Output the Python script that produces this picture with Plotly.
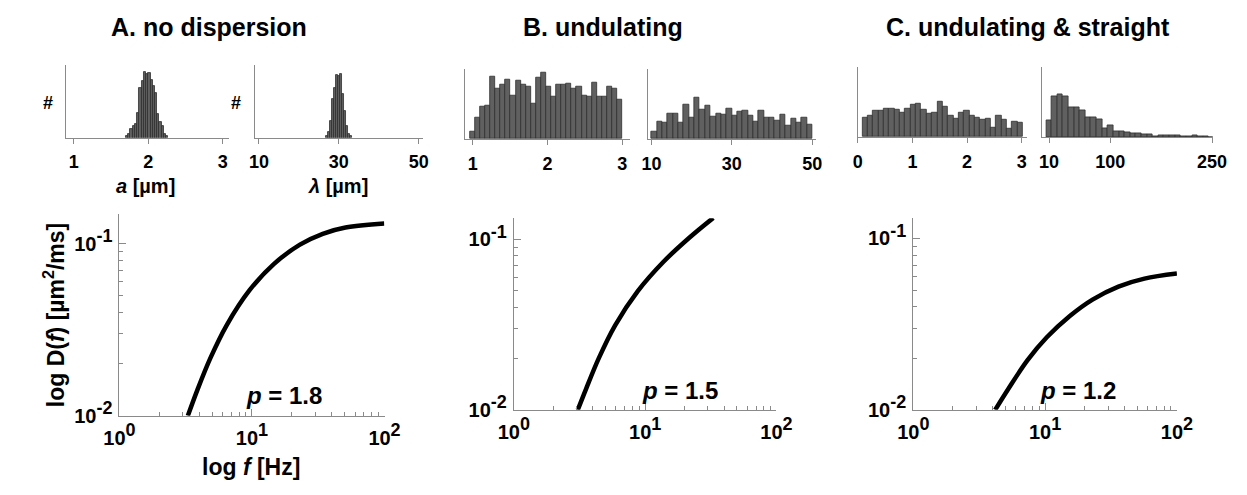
import plotly.graph_objects as go

W, H = 1247, 495
FONT = "Liberation Sans, Arial, Helvetica, sans-serif"

# ---------------- histogram data (counts) ----------------
a_A_start, a_A_width = 1.70, 0.03
a_A_counts = [4, 10, 27, 37, 42, 77, 152, 174, 202, 194, 197, 177, 157, 137, 72, 47, 37, 10, 4]
l_A_start, l_A_width = 26.75, 0.5
l_A_counts = [4, 17, 52, 117, 152, 192, 187, 194, 132, 82, 37, 12, 4]

a_B_start, a_B_width = 0.96, 0.068
a_B_counts = [24, 67, 100, 104, 194, 157, 169, 187, 137, 182, 170, 164, 112, 192, 207,
              164, 134, 169, 169, 172, 157, 164, 137, 134, 177, 134, 134, 164, 157, 122]
l_B_start, l_B_width = 10.0, 1.333
l_B_counts = [22, 55, 52, 80, 78, 52, 108, 67, 128, 92, 102, 68, 80, 75, 94,
              72, 84, 89, 72, 55, 88, 67, 67, 58, 77, 40, 64, 50, 67, 45]

a_C_start, a_C_width = 0.083, 0.098
a_C_counts = [59, 65, 80, 80, 88, 88, 85, 74, 88, 98, 101, 85, 73, 76, 109,
              92, 67, 55, 76, 81, 67, 60, 52, 57, 29, 67, 52, 25, 47, 43]
l_C_start, l_C_width = 5.6, 8.27
l_C_counts = [50, 125, 130, 124, 92, 91, 82, 62, 62, 54, 28, 35, 18, 17, 16,
              10, 11, 7, 7, 3, 5, 4, 5, 4, 3, 1, 5, 1, 1, 0]

# ---------------- D(f) curves ----------------
f_A = [3.28, 3.88, 4.87, 6.45, 9.59, 14.6, 23.0, 34.2, 50.8, 99.5]
D_A = [0.0100, 0.01419, 0.02175, 0.03365, 0.0536, 0.0760, 0.0986, 0.1140, 0.1239, 0.1309]
f_B = [3.07, 3.54, 4.44, 5.91, 8.79, 13.8, 21.9, 33.0]
D_B = [0.0100, 0.0132, 0.0201, 0.0313, 0.0497, 0.0739, 0.1029, 0.1336]
f_C = [4.18, 5.24, 7.36, 10.3, 15.4, 22.9, 36.0, 56.7, 100]
D_C = [0.0100, 0.0132, 0.0195, 0.0265, 0.0353, 0.0440, 0.0524, 0.0583, 0.0624]

titles = ["A. no dispersion", "B. undulating", "C. undulating & straight"]
p_labels = ["<i>p</i> = 1.8", "<i>p</i> = 1.5", "<i>p</i> = 1.2"]

hist_ticks = [([1, 2, 3], ["1", "2", "3"]), ([10, 30, 50], ["10", "30", "50"]),
              ([1, 2, 3], ["1", "2", "3"]), ([10, 30, 50], ["10", "30", "50"]),
              ([0, 1, 2, 3], ["0", "1", "2", "3"]), ([10, 100, 250], ["10", "100", "250"])]
f_ticks = [1, 10, 100]
f_exps = ["0", "1", "2"]
D_ticks = [0.01, 0.1]
D_exps = ["-2", "-1"]

# ---------------- layout geometry (pixels) ----------------
hist_boxes = [  # x0, x1, ytop, ybottom, xrange, yrange
    (43, 210, 58.3, 132.7, [0.895, 3.08], [0, 222]),
    (237, 410, 58.3, 132.7, [9.0, 51.2], [0, 222]),
    (452.7, 621.7, 62, 134, [0.896, 3.1], [0, 220]),
    (640.7, 812.7, 62, 134, [9.2, 50.9], [0, 218]),
    (855.7, 1029, 60, 132, [0.0, 3.09], [0, 216]),
    (1044.3, 1220, 60.7, 132, [-1.1, 251], [0, 214]),
]
main_boxes = [
    (98, 370, 211, 417, [-2, -0.830]),
    (502.7, 772.3, 215, 411, [-2, -0.876]),
    (912.7, 1183.3, 215, 411, [-2, -0.882]),
]

def dx(a, b):
    return [a / W, b / W]

def dy(top, bot):
    return [1 - bot / H, 1 - top / H]

def pow10(e):
    return f"10<sup><span style='font-size:18px'>{e}</span></sup>"

fig = go.Figure()
layout = dict(width=W, height=H, margin=dict(l=0, r=0, t=0, b=0),
              paper_bgcolor="white", plot_bgcolor="white", showlegend=False,
              font=dict(family=FONT, color="black"), bargap=0)

hist_data = [(a_A_start, a_A_width, a_A_counts), (l_A_start, l_A_width, l_A_counts),
             (a_B_start, a_B_width, a_B_counts), (l_B_start, l_B_width, l_B_counts),
             (a_C_start, a_C_width, a_C_counts), (l_C_start, l_C_width, l_C_counts)]

AX = "#8a8a8a"
for i, ((start, width, counts), box, (tv, tt)) in enumerate(zip(hist_data, hist_boxes, hist_ticks)):
    n = i + 1
    centers = [start + (k + 0.5) * width for k in range(len(counts))]
    fig.add_trace(go.Bar(x=centers, y=counts, width=width,
                         marker=dict(color="#606060", line=dict(color="#2e2e2e", width=0.8)),
                         xaxis=f"x{n}", yaxis=f"y{n}", hoverinfo="skip"))
    x0, x1, yt, yb, xr, yr = box
    layout[f"xaxis{n}"] = dict(domain=dx(x0, x1), range=xr, anchor=f"y{n}",
                               showline=True, linecolor=AX, linewidth=1, showgrid=False,
                               zeroline=False, ticks="outside", ticklen=5, tickcolor=AX,
                               tickvals=tv, ticktext=tt, ticklabelstandoff=3,
                               tickfont=dict(size=18, weight="bold", family=FONT))
    layout[f"yaxis{n}"] = dict(domain=dy(yt, yb), range=yr, anchor=f"x{n}",
                               showline=True, linecolor=AX, linewidth=1, showgrid=False,
                               zeroline=False, showticklabels=False, ticks="")

curves = [(f_A, D_A), (f_B, D_B), (f_C, D_C)]
minor_x = [2, 3, 4, 5, 6, 7, 8, 9, 20, 30, 40, 50, 60, 70, 80, 90]
minor_y = [0.02, 0.03, 0.04, 0.05, 0.06, 0.07, 0.08, 0.09, 0.2]
for j, ((fv, Dv), box) in enumerate(zip(curves, main_boxes)):
    n = 7 + j
    fig.add_trace(go.Scatter(x=fv, y=Dv, mode="lines", line=dict(color="black", width=4.5, shape="spline"),
                             xaxis=f"x{n}", yaxis=f"y{n}", hoverinfo="skip"))
    x0, x1, yt, yb, yr = box
    layout[f"xaxis{n}"] = dict(domain=dx(x0, x1), type="log", range=[0, 2], anchor=f"y{n}",
                               showline=True, linecolor=AX, linewidth=1, showgrid=False, zeroline=False,
                               ticks="inside", ticklen=7, tickcolor=AX,
                               tickvals=f_ticks, ticktext=[pow10(e) for e in f_exps],
                               ticklabelstandoff=4,
                               minor=dict(ticks="inside", ticklen=4, tickcolor=AX, tickvals=minor_x),
                               tickfont=dict(size=20, weight="bold", family=FONT))
    layout[f"yaxis{n}"] = dict(domain=dy(yt, yb), type="log", range=yr, anchor=f"x{n}",
                               showline=True, linecolor=AX, linewidth=1, showgrid=False, zeroline=False,
                               ticks="inside", ticklen=7, tickcolor=AX,
                               tickvals=D_ticks, ticktext=[pow10(e) for e in D_exps],
                               ticklabelstandoff=2,
                               minor=dict(ticks="inside", ticklen=4, tickcolor=AX, tickvals=minor_y),
                               tickfont=dict(size=20, weight="bold", family=FONT))

annotations = []
def txt(x, y, s, size, **kw):
    d = dict(x=x / W, y=1 - y / H, xref="paper", yref="paper", text=s, showarrow=False,
             font=dict(size=size, family=FONT, color="black", weight="bold"),
             xanchor="center", yanchor="middle")
    d.update(kw)
    annotations.append(d)

txt(190, 19, titles[0], 25)
txt(594, 19, titles[1], 25)
txt(1030, 19, titles[2], 25)
txt(25, 97, "#", 18)
txt(218, 97, "#", 18)
txt(125, 182, "<i>a</i> [µm]", 20)
txt(322, 182, "<i>λ</i> [µm]", 20)
txt(233, 469, "log <i>f</i> [Hz]", 23)
txt(31, 314, "log D(<i>f</i>) [µm<sup>2</sup>/ms]", 23, textangle=-90)
txt(267, 396, p_labels[0], 24)
txt(673, 391, p_labels[1], 24)
txt(1082, 391, p_labels[2], 24)
layout["annotations"] = annotations

fig.update_layout(**layout)
fig.write_html("out.html")
